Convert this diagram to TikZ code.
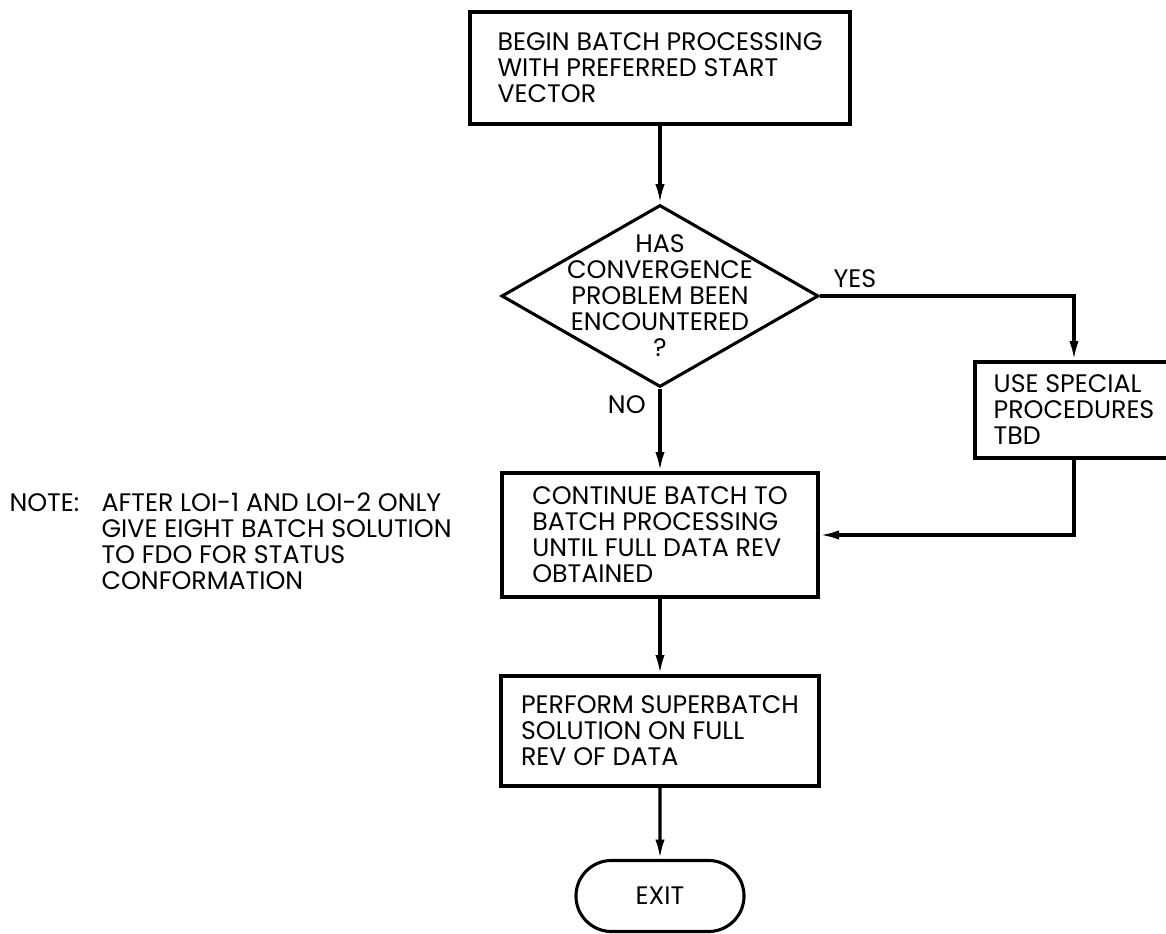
\documentclass[tikz,border=0pt]{standalone}
\usepackage{fontspec}
\setmainfont{Poppins}
\usetikzlibrary{arrows.meta, shapes.geometric, shapes.misc}

\begin{document}
\begin{tikzpicture}[> = {Latex[length=4.8mm, width=2.3mm]}, % arrow head style
                x = 0.025cm, y = -0.025cm, % one unit per pixel, y downwards
                line width = 2.2pt, % line style
                font = \fontsize{18pt}{18.5pt}\selectfont
            ]

            \tikzstyle{every node}=[inner sep = 0pt, align = left]
            \tikzstyle{stepbox}=[draw, rectangle, line width = 2.5pt]
            \tikzstyle{decision}=[draw, diamond, minimum width = 7.925cm,
            minimum height = 4.55cm]
            \tikzstyle{terminal}=[draw, rounded rectangle, minimum width =
            4.2cm, minimum height = 1.775cm]

            \useasboundingbox (0,0) rectangle (1166,934);

            \node (begin) [stepbox, minimum width = 9.5cm, minimum height =
            2.8cm] at (660,68) {BEGIN BATCH PROCESSING\\ WITH PREFERRED
            START\\ VECTOR};
            \node (dec) [decision] at (660,296) {};
            \node (decq) [align = center] at (dec.center) {HAS\\
            CONVERGENCE\\ PROBLEM BEEN\\ ENCOUNTERED\\ ?};
            \node (spec) [stepbox, minimum width = 4.95cm, minimum height =
            2.4cm] at (1074,410) {USE SPECIAL\\ PROCEDURES\\ TBD};
            \node (cont) [stepbox, minimum width = 7.9cm, minimum height =
            3.1cm] at (660,535) {CONTINUE BATCH TO\\ BATCH PROCESSING\\
            UNTIL FULL DATA REV\\ OBTAINED};
            \node (super) [stepbox, minimum width = 7.95cm, minimum height =
            2.75cm] at (660,731) {PERFORM SUPERBATCH\\ SOLUTION ON FULL\\
            REV OF DATA};
            \node (exit) [terminal] at (660,896) {EXIT};

            % note beside the batch box
            \node (note) [anchor = west] at (8,503) {NOTE:};
            \node (notebody) [anchor = west] at (100,541) {AFTER LOI-1 AND
            LOI-2 ONLY\\ GIVE EIGHT BATCH SOLUTION\\ TO FDO FOR STATUS\\
            CONFORMATION};

            \node (yes) [anchor = south west] at ([xshift=0.3cm,
            yshift=0.18cm]dec.east) {YES};

            \path[->] (begin) edge (dec); \path[->] (dec) edge node (no)
            [pos = 0.19, left = 0.32cm] {NO} (cont); \path[->] (cont) edge
            (super); \path[->] (super) edge (exit);
            \draw[->] (dec.east) -| (spec.north); \draw[->] (spec.south) |-
            (cont.east);
\end{tikzpicture}
\end{document}
